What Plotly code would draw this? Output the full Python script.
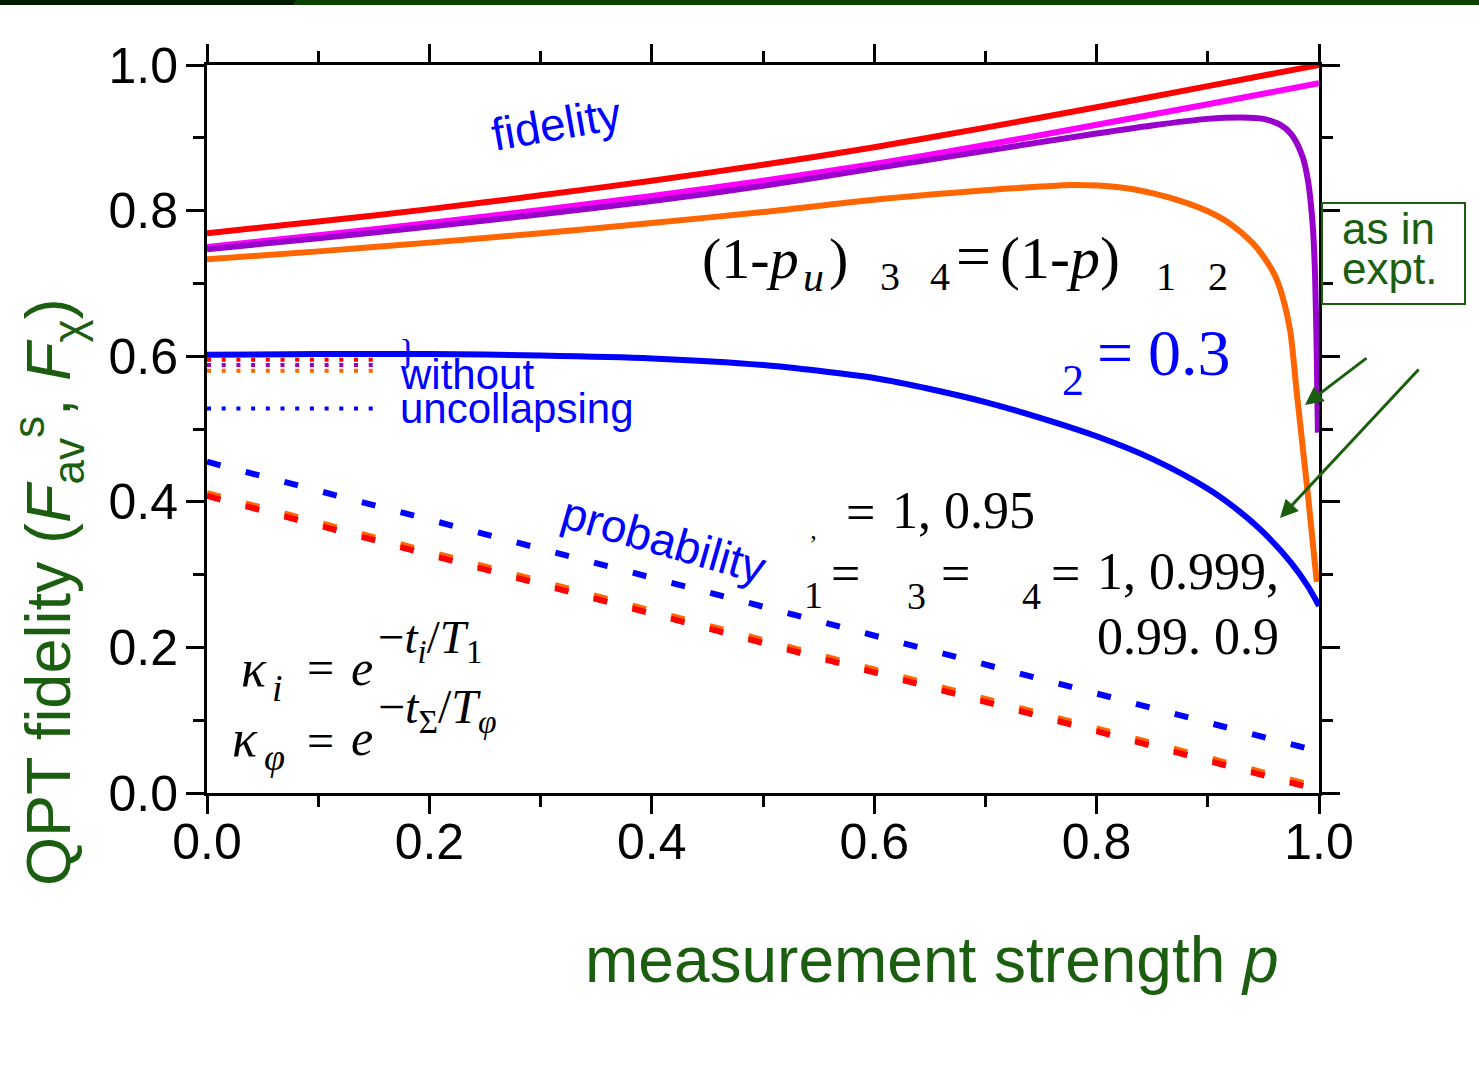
import plotly.graph_objects as go

# ---------------- data ----------------
p_red = [0.0, 0.1, 0.2, 0.3, 0.4, 0.5, 0.6, 0.7, 0.8, 0.9, 1.0]
f_red = [0.769, 0.785, 0.802, 0.821, 0.841, 0.863, 0.887, 0.914, 0.942, 0.971, 1.0]

p_mag = [0.0, 0.1, 0.2, 0.3, 0.4, 0.5, 0.6, 0.7, 0.8, 0.9, 1.0]
f_mag = [0.750, 0.766, 0.783, 0.801, 0.820, 0.841, 0.864, 0.890, 0.918, 0.946, 0.975]

p_pur = [0.0, 0.1, 0.2, 0.3, 0.4, 0.5, 0.6, 0.7, 0.8, 0.85, 0.9, 0.93, 0.95, 0.965,
         0.975, 0.985, 0.99, 0.9945, 0.9965, 0.998, 0.999]
f_pur = [0.747, 0.762, 0.778, 0.795, 0.813, 0.834, 0.858, 0.882, 0.906, 0.917, 0.926,
         0.928, 0.926, 0.918, 0.905, 0.875, 0.842, 0.777, 0.71, 0.60, 0.495]

p_ora = [0.0, 0.1, 0.2, 0.3, 0.4, 0.5, 0.6, 0.7, 0.75, 0.78, 0.82, 0.85, 0.88, 0.9,
         0.92, 0.94, 0.95, 0.96, 0.967, 0.974, 0.98, 0.985, 0.99, 0.995, 0.998]
f_ora = [0.733, 0.744, 0.756, 0.769, 0.783, 0.798, 0.815, 0.828, 0.833, 0.835, 0.832,
         0.824, 0.811, 0.799, 0.782, 0.756, 0.737, 0.712, 0.683, 0.636, 0.55, 0.48,
         0.41, 0.335, 0.29]

p_prob = [0.0, 0.1, 0.2, 0.3, 0.4, 0.5, 0.55, 0.6, 0.65, 0.7, 0.75, 0.8, 0.85, 0.9,
          0.925, 0.95, 0.975, 0.99, 1.0]
f_prob = [0.602, 0.603, 0.603, 0.601, 0.597, 0.588, 0.580, 0.570, 0.555, 0.537, 0.515,
          0.490, 0.459, 0.418, 0.391, 0.358, 0.316, 0.284, 0.257]

p_dash = [0.0, 1.0]
d_blue = [0.455, 0.057]
d_orange = [0.412, 0.008]
d_red = [0.408, 0.004]

p_dot = [0.0, 0.151]
dot_red = [0.595, 0.595]
dot_pur = [0.588, 0.588]
dot_ora = [0.580, 0.580]
dot_blue = [0.528, 0.528]

x_ticks = [0.0, 0.2, 0.4, 0.6, 0.8, 1.0]
y_ticks = [0.0, 0.2, 0.4, 0.6, 0.8, 1.0]

# ---------------- styling ----------------
RED, MAG, PUR, ORA, BLUE = "#ff0000", "#ff00ff", "#9900cc", "#ff6600", "#0000ff"
GREEN = "#1b5e10"
SANS = "Liberation Sans, Arial, sans-serif"
SERIF = "Liberation Serif, Times New Roman, serif"

X0, X1, Y0, Y1 = 207, 1319, 793, 65


def X(px):
    return (px - X0) / (X1 - X0)


def Y(py):
    return (Y0 - py) / (Y0 - Y1)


fig = go.Figure()


def line(x, y, color, width, dash=None, shape="spline"):
    fig.add_trace(go.Scatter(x=x, y=y, mode="lines", showlegend=False, hoverinfo="skip",
                             line=dict(color=color, width=width, dash=dash, shape=shape,
                                       smoothing=0.8)))


# dashed probability lines
line(p_dash, d_blue, BLUE, 6, "14px,26px", "linear")
line(p_dash, d_orange, ORA, 6, "14px,26px", "linear")
line(p_dash, d_red, RED, 6, "14px,26px", "linear")
# dotted "without uncollapsing" lines
line(p_dot, dot_ora, ORA, 4, "4px,10.7px", "linear")
line(p_dot, dot_pur, PUR, 4, "4px,10.7px", "linear")
line(p_dot, dot_red, RED, 4, "4px,10.7px", "linear")
line(p_dot, dot_blue, BLUE, 4, "4px,10.7px", "linear")
# solid curves
line(p_red, f_red, RED, 6)
line(p_mag, f_mag, MAG, 6)
line(p_pur, f_pur, PUR, 6)
line(p_ora, f_ora, ORA, 6)
line(p_prob, f_prob, BLUE, 6)

axis_common = dict(
    range=[0, 1], showgrid=False, zeroline=False, showline=True, linewidth=3,
    linecolor="black", mirror="allticks", ticks="outside", ticklen=18, tickwidth=3,
    tickcolor="black", tickformat=".1f",
    tickfont=dict(family=SANS, size=50, color="black"),
    minor=dict(dtick=0.1, ticks="outside", ticklen=11, tickwidth=3, tickcolor="black",
               showgrid=False),
)
fig.update_xaxes(tickvals=x_ticks, ticklabelstandoff=-15, **axis_common)
fig.update_yaxes(tickvals=y_ticks, ticklabelstandoff=-2, **axis_common)


def txt(s, px, py, size, color="black", family=SERIF, xanchor="center",
        yanchor="middle", angle=0, align="center"):
    fig.add_annotation(text=s, x=X(px), y=Y(py), xref="paper", yref="paper",
                       showarrow=False, font=dict(size=size, color=color, family=family),
                       xanchor=xanchor, yanchor=yanchor, textangle=angle, align=align)


# axis titles
txt("measurement strength <i>p</i>", 932, 960, 64, GREEN, SANS)
txt("QPT fidelity (<i>F</i><sub>av</sub><sup>s</sup>, <i>F</i><sub>χ</sub>)", 48, 592, 63,
    GREEN, SANS, angle=-90)

# blue labels
txt("fidelity", 556, 124, 46, BLUE, SANS, angle=-10)
txt("probability", 664, 540, 46, BLUE, SANS, angle=16)
txt("}", 407, 352, 36, BLUE, SERIF)
txt("without", 398, 374, 42, BLUE, SANS, xanchor="left")
txt("uncollapsing", 398, 408, 42, BLUE, SANS, xanchor="left")

# top formula
txt("(1-<i>p</i>", 700, 258, 58, xanchor="left")
txt("<i>u</i>", 813, 277, 42)
txt(")", 838, 258, 58)
txt("3", 890, 276, 40)
txt("4", 940, 276, 40)
txt("=", 973, 256, 62)
txt("(1-<i>p</i>)", 998, 258, 60, xanchor="left")
txt("1", 1166, 276, 40)
txt("2", 1218, 276, 40)

# blue kappa_2 = 0.3
txt("2", 1073, 380, 44, BLUE)
txt("=", 1115, 352, 64, BLUE)
txt("0.3", 1146, 352, 66, BLUE, xanchor="left")

# kappa values
txt("‚", 813, 530, 26)
txt("=", 860, 512, 52)
txt("1, 0.95", 890, 510, 52, xanchor="left")
txt("1", 813, 595, 38)
txt("=", 845, 573, 52)
txt("3", 916, 596, 38)
txt("=", 955, 573, 52)
txt("4", 1031, 596, 38)
txt("=", 1065, 573, 52)
txt("1, 0.999,", 1095, 571, 52, xanchor="left")
txt("0.99. 0.9", 1095, 636, 52, xanchor="left")

# kappa definitions
txt("<i>κ</i>", 254, 668, 52)
txt("<i>i</i>", 277, 688, 38)
txt("=", 320, 667, 48)
txt("<i>e</i>", 362, 668, 50)
txt("−<i>t</i><sub><i>i</i></sub>/<i>T</i><sub>1</sub>", 376, 640, 47, xanchor="left")
txt("<i>κ</i>", 245, 738, 52)
txt("<i>φ</i>", 274, 757, 38)
txt("=", 320, 740, 48)
txt("<i>e</i>", 362, 738, 50)
txt("−<i>t</i><sub>Σ</sub>/<i>T</i><sub><i>φ</i></sub>", 376, 710, 48, xanchor="left")

# "as in expt." box
fig.add_shape(type="rect", xref="paper", yref="paper", x0=X(1322), x1=X(1465),
              y0=Y(304), y1=Y(203), line=dict(color=GREEN, width=2))
txt("as in", 1340, 228, 44, GREEN, SANS, xanchor="left")
txt("expt.", 1340, 268, 44, GREEN, SANS, xanchor="left")

# arrows
for hx, hy, tx, ty in [(1305, 405, 1368, 357), (1280, 518, 1420, 368)]:
    fig.add_annotation(x=X(hx), y=Y(hy), xref="paper", yref="paper", text="",
                       showarrow=True, arrowhead=2, arrowsize=1.2, arrowwidth=3,
                       arrowcolor=GREEN, ax=tx - hx, ay=ty - hy)

# header bar
fig.add_shape(type="rect", xref="paper", yref="paper", x0=X(0), x1=X(1479),
              y0=Y(5), y1=Y(-2), line=dict(width=0), fillcolor="#0d4200", layer="above")
fig.add_shape(type="path", xref="paper", yref="paper",
              path=f"M {X(0)},{Y(-2)} L {X(297)},{Y(-2)} L {X(293)},{Y(5)} L {X(0)},{Y(5)} Z",
              line=dict(width=0), fillcolor="#001a00", layer="above")

fig.update_layout(
    width=1479, height=1074,
    margin=dict(l=X0, r=1479 - X1, t=Y1, b=1074 - Y0, pad=0),
    paper_bgcolor="white", plot_bgcolor="white",
)

fig.write_html("out.html", config={"displayModeBar": False},
               post_script="document.body.style.margin='0px';")
